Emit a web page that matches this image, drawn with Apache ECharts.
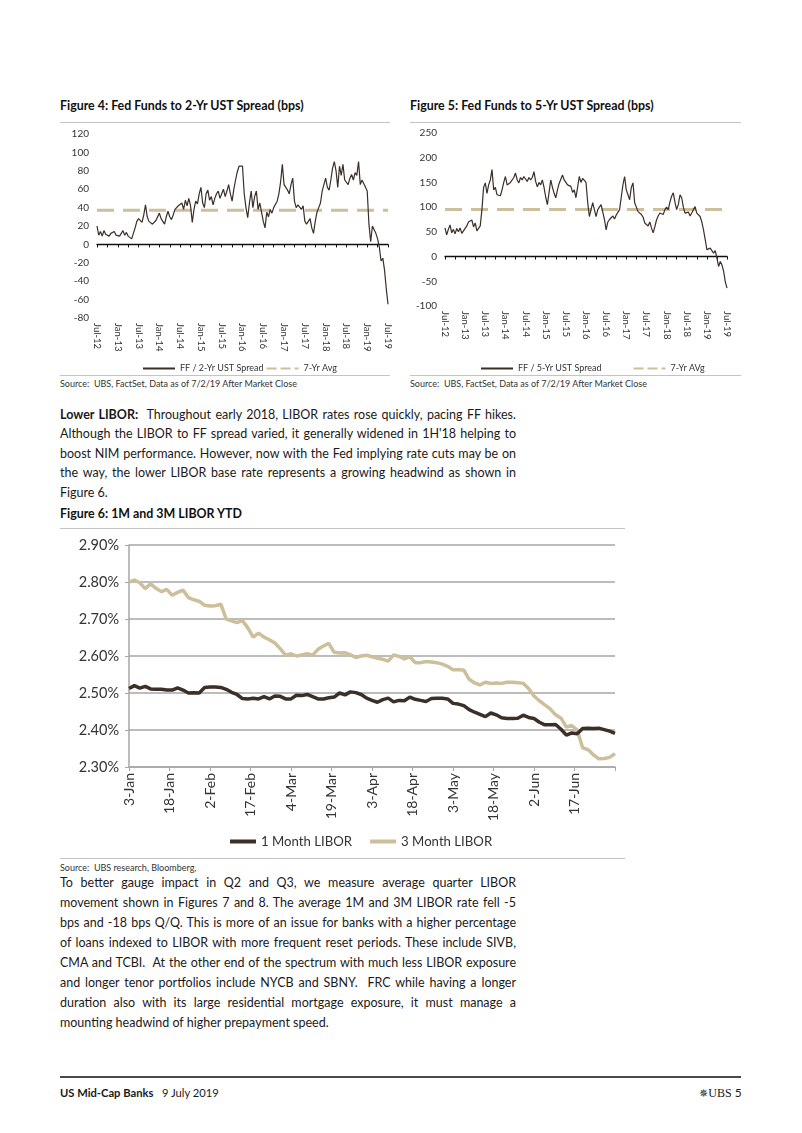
<!DOCTYPE html>
<html><head><meta charset="utf-8">
<script src="https://cdn.jsdelivr.net/npm/echarts@6/dist/echarts.min.js"></script>
<style>
body{margin:0;background:#fff;}
#page{position:relative;width:802px;height:1133px;font-family:Lato,'Open Sans',sans-serif;color:#1a1a1a;overflow:hidden;background:#fff}
.abs{position:absolute;white-space:pre}
.title{font-weight:bold;font-size:12.4px;line-height:14px;color:#111}
.rule{position:absolute;height:1px;background:#c4c4c4}
.src{font-size:9px;line-height:12px;color:#333}
.para{position:absolute;left:60px;width:456px;font-size:12.5px;color:#1a1a1a}
.para span{display:block;white-space:pre;height:19.4px;line-height:19.4px}
.para2 span{height:20px;line-height:20px}
.chart{position:absolute}
</style></head>
<body><div id="page">

<div class="abs title" style="left:60px;top:99px">Figure 4: Fed Funds to 2-Yr UST Spread (bps)</div>
<div class="abs title" style="left:410px;top:99px">Figure 5: Fed Funds to 5-Yr UST Spread (bps)</div>
<div class="rule" style="left:60px;top:122px;width:330px"></div>
<div class="rule" style="left:410px;top:122px;width:331px"></div>

<div class="chart" id="fig4" style="left:55px;top:125px;width:345px;height:250px"></div>
<div class="chart" id="fig5" style="left:405px;top:125px;width:345px;height:250px"></div>

<div class="rule" style="left:60px;top:375px;width:330px"></div>
<div class="rule" style="left:410px;top:375px;width:331px"></div>
<div class="abs src" style="left:60px;top:378px">Source:  UBS, FactSet, Data as of 7/2/19 After Market Close</div>
<div class="abs src" style="left:410px;top:378px">Source:  UBS, FactSet, Data as of 7/2/19 After Market Close</div>

<div class="para" style="top:405px">
<span class="just"><b>Lower LIBOR:</b>  Throughout early 2018, LIBOR rates rose quickly, pacing FF hikes.</span>
<span class="just">Although the LIBOR to FF spread varied, it generally widened in 1H'18 helping to</span>
<span class="just">boost NIM performance. However, now with the Fed implying rate cuts may be on</span>
<span class="just">the way, the lower LIBOR base rate represents a growing headwind as shown in</span>
<span>Figure 6.</span>
</div>

<div class="abs title" style="left:60px;top:507px">Figure 6: 1M and 3M LIBOR YTD</div>
<div class="rule" style="left:60px;top:528px;width:565px"></div>
<div class="chart" id="fig6" style="left:55px;top:530px;width:580px;height:325px"></div>
<div class="rule" style="left:60px;top:858px;width:565px"></div>
<div class="abs src" style="left:60px;top:862px">Source:  UBS research, Bloomberg,</div>

<div class="para para2" style="top:873px">
<span class="just">To better gauge impact in Q2 and Q3, we measure average quarter LIBOR</span>
<span class="just">movement shown in Figures 7 and 8. The average 1M and 3M LIBOR rate fell -5</span>
<span class="just">bps and -18 bps Q/Q. This is more of an issue for banks with a higher percentage</span>
<span class="just">of loans indexed to LIBOR with more frequent reset periods. These include SIVB,</span>
<span class="just">CMA and TCBI.  At the other end of the spectrum with much less LIBOR exposure</span>
<span class="just">and longer tenor portfolios include NYCB and SBNY.  FRC while having a longer</span>
<span class="just">duration also with its large residential mortgage exposure, it must manage a</span>
<span>mounting headwind of higher prepayment speed.</span>
</div>

<div style="position:absolute;left:60px;top:1076px;width:681px;height:1.5px;background:#4a4a4a"></div>
<div class="abs" style="left:60px;top:1085px;font-size:11.2px;line-height:16px"><b>US Mid-Cap Banks</b>   9 July 2019</div>
<div class="abs" style="left:699px;top:1085px;font-size:12px;line-height:16px"><span style="font-family:'DejaVu Sans';font-size:11px">✵</span><span style="font-family:'Liberation Serif'">UBS</span> 5</div>

</div>
<script>
// ---------- Figures 4 & 5: half-monthly readings, Jul-12 .. Jul-19 ----------
const monthNames = ['Jan','Feb','Mar','Apr','May','Jun','Jul','Aug','Sep','Oct','Nov','Dec'];
const spreadDates = [];
for (let m = 0; m <= 84; m++) {
  const mo = (6 + m) % 12, yr = 12 + Math.floor((6 + m) / 12);
  spreadDates.push(monthNames[mo] + '-' + yr + '|01');
  if (m < 84) spreadDates.push(monthNames[mo] + '-' + yr + '|16');
}
const ff2Spread = [
  20,10,14,9,15,11,13,9,12,10,14,10,
  12,9,11,15,10,13,9,11,6,12,18,25,
  28,30,24,32,43,30,25,27,22,21,26,24,
  34,28,25,22,30,36,30,27,32,38,36,42,
  40,45,38,48,42,50,42,24,38,47,44,55,
  62,45,40,55,59,48,52,43,50,55,58,50,
  55,60,52,58,65,55,47,60,70,79,85,84,
  85,55,40,29,45,58,40,52,58,38,45,35,
  25,18,35,30,38,34,40,38,47,55,68,87,
  65,62,59,55,65,72,47,40,43,45,38,42,
  25,22,20,28,18,12,25,35,40,45,58,60,
  72,62,59,70,83,90,80,62,85,75,87,70,
  68,65,72,76,70,78,75,90,65,70,68,62,
  58,22,3,20,16,12,6,-3,-18,-15,-28,-48,
  -65
];
const ff5Spread = [
  58,44,55,64,48,55,46,57,50,58,47,52,
  48,62,70,66,74,60,68,52,48,62,95,140,
  149,128,145,155,176,135,140,125,127,123,135,150,
  162,145,141,150,152,160,169,155,149,160,155,162,
  157,152,160,155,160,172,152,141,150,145,155,140,
  120,105,130,155,140,128,119,135,148,150,165,155,
  152,145,148,142,130,135,119,140,162,150,158,155,
  150,110,81,95,109,95,81,95,100,105,90,75,
  54,70,75,71,82,76,84,80,95,120,145,162,
  135,125,115,140,149,109,100,91,95,85,80,68,
  72,62,70,58,48,60,74,82,88,91,85,95,
  100,95,110,122,129,110,95,105,125,119,100,88,
  85,90,82,88,95,101,88,92,81,70,54,35,
  14,10,17,12,7,12,-3,-20,-10,-17,-30,-51,
  -64
];
const avg2 = 37;
const avg5 = 95;

// ---------- Figure 6: LIBOR YTD 2019, every 2 days from 3-Jan ----------
const liborDays = [];
for (let d = 0; d <= 180; d += 2) liborDays.push(d);
const libor3M = [
  2.800,2.805,2.798,2.782,2.795,2.783,2.774,2.780,2.764,2.772,2.778,
  2.758,2.752,2.748,2.737,2.735,2.736,2.740,2.700,2.695,2.690,
  2.696,2.676,2.651,2.662,2.651,2.644,2.635,2.620,2.602,2.606,
  2.600,2.603,2.606,2.602,2.618,2.627,2.634,2.610,2.608,2.609,
  2.603,2.596,2.600,2.602,2.598,2.594,2.591,2.586,2.603,2.599,
  2.592,2.598,2.582,2.582,2.585,2.584,2.582,2.578,2.572,2.563,
  2.563,2.562,2.537,2.527,2.522,2.529,2.526,2.527,2.526,2.529,
  2.529,2.528,2.526,2.512,2.492,2.479,2.468,2.457,2.441,2.432,
  2.408,2.412,2.400,2.352,2.347,2.333,2.322,2.323,2.326,2.336
];
const libor1M = [
  2.512,2.520,2.513,2.518,2.511,2.510,2.510,2.508,2.508,2.514,2.508,
  2.500,2.501,2.500,2.515,2.516,2.516,2.515,2.510,2.502,2.496,
  2.485,2.484,2.486,2.484,2.490,2.484,2.492,2.491,2.484,2.484,
  2.494,2.493,2.496,2.490,2.484,2.484,2.487,2.489,2.500,2.495,
  2.503,2.501,2.496,2.486,2.480,2.475,2.482,2.486,2.476,2.480,
  2.479,2.489,2.483,2.480,2.477,2.485,2.486,2.486,2.484,2.472,
  2.470,2.466,2.455,2.448,2.442,2.436,2.446,2.441,2.433,2.431,
  2.431,2.432,2.440,2.434,2.431,2.421,2.414,2.414,2.415,2.402,
  2.386,2.392,2.390,2.404,2.405,2.404,2.405,2.401,2.397,2.391
];
const startDate = Date.UTC(2019, 0, 3);

// ---------- justify paragraph lines ----------
document.querySelectorAll('.just').forEach(el => {
  el.style.display = 'inline-block';
  const w = el.getBoundingClientRect().width;
  const target = 456;
  const n = (el.textContent.match(/ /g) || []).length;
  if (w > target) {
    el.style.letterSpacing = ((target - w) / el.textContent.length) + 'px';
  } else if (n > 0) {
    el.style.wordSpacing = ((target - w) / n) + 'px';
  }
  el.style.display = 'block';
});

const FONT = 'Lato';
const DARK = '#3b2f28';
const TAN = '#cdbe9c';
const HIDE_SYMBOL = { color: 'rgba(0,0,0,0)', borderColor: 'rgba(0,0,0,0)', borderWidth: 0 };

function spreadOption(data, avg, name, avgName, yMin, yMax, yInt, grid, legendLeft, legendGap) {
  const last = spreadDates.length - 1;
  return {
    animation: false,
    textStyle: { fontFamily: FONT },
    grid: grid,
    legend: {
      left: legendLeft, top: 234, itemGap: legendGap, itemWidth: 32, itemHeight: 8,
      itemStyle: HIDE_SYMBOL,
      textStyle: { fontSize: 9, color: '#333', fontFamily: FONT },
      data: [
        { name: name },
        { name: avgName, lineStyle: { type: [10, 4] } }
      ]
    },
    xAxis: [
      { type: 'category', data: spreadDates, boundaryGap: false, position: 'bottom',
        axisLine: { onZero: true, lineStyle: { color: '#111', width: 1.4 } },
        axisTick: { show: true, interval: 5, length: 3, lineStyle: { color: '#111' } },
        axisLabel: { show: false } },
      { type: 'category', data: spreadDates, boundaryGap: false, position: 'bottom',
        axisLine: { show: false, onZero: false }, axisTick: { show: false },
        axisLabel: { interval: 11, rotate: -90, fontSize: 9.5, color: '#333', margin: 5,
          formatter: v => v.split('|')[0] } }
    ],
    yAxis: { type: 'value', min: yMin, max: yMax, interval: yInt,
      axisLine: { show: false }, axisTick: { show: false }, splitLine: { show: false },
      axisLabel: { fontSize: 10, color: '#333', margin: 8 } },
    series: [
      { name: name, type: 'line', data: data, symbol: 'none', z: 3,
        lineStyle: { color: DARK, width: 1.2 }, itemStyle: { color: DARK } },
      { name: avgName, type: 'line', symbol: 'none', z: 2,
        data: [[spreadDates[0], avg], [spreadDates[last], avg]],
        lineStyle: { color: TAN, width: 3, type: [17, 9] }, itemStyle: { color: TAN } }
    ]
  };
}

echarts.init(document.getElementById('fig4')).setOption(
  spreadOption(ff2Spread, avg2, 'FF / 2-Yr UST Spread', '7-Yr Avg', -80, 120, 20,
    { left: 42, right: 12, top: 9, bottom: 57 }, 82, 2));
echarts.init(document.getElementById('fig5')).setOption(
  spreadOption(ff5Spread, avg5, 'FF / 5-Yr UST Spread', '7-Yr AVg', -100, 250, 50,
    { left: 40, right: 23, top: 8, bottom: 69 }, 70, 31));

const c6 = echarts.init(document.getElementById('fig6'));
c6.setOption({
  animation: false,
  textStyle: { fontFamily: FONT },
  grid: { left: 74, right: 20, top: 15, bottom: 88 },
  legend: {
    left: 168, top: 300, itemGap: 16, itemWidth: 26, itemHeight: 8,
    itemStyle: HIDE_SYMBOL,
    lineStyle: { width: 4 },
    textStyle: { fontSize: 13.2, color: '#333', fontFamily: FONT },
    data: ['1 Month LIBOR', '3 Month LIBOR']
  },
  xAxis: {
    type: 'value', min: 0, max: 180, interval: 15,
    axisLine: { lineStyle: { color: '#a6a6a6', width: 1.5 } },
    axisTick: { show: true, length: 4, lineStyle: { color: '#a6a6a6' } },
    splitLine: { show: false },
    axisLabel: { rotate: 90, fontSize: 14, color: '#333', margin: 6, showMaxLabel: true,
      formatter: v => {
        if (v >= 180) return '';
        const dt = new Date(startDate + v * 86400000);
        return dt.getUTCDate() + '-' + monthNames[dt.getUTCMonth()];
      } }
  },
  yAxis: {
    type: 'value', min: 2.3, max: 2.9, interval: 0.1,
    axisLine: { show: true, lineStyle: { color: '#a6a6a6', width: 1.5 } },
    axisTick: { show: true, length: 4, lineStyle: { color: '#a6a6a6' } },
    splitLine: { lineStyle: { color: '#a6a6a6', width: 1.5 } },
    axisLabel: { fontSize: 14.5, color: '#333', margin: 10, formatter: v => v.toFixed(2) + '%' }
  },
  series: [
    { name: '1 Month LIBOR', type: 'line', symbol: 'none', z: 3,
      data: liborDays.map((d, i) => [d, libor1M[i]]),
      lineStyle: { color: DARK, width: 3.5 }, itemStyle: { color: DARK } },
    { name: '3 Month LIBOR', type: 'line', symbol: 'none', z: 2,
      data: liborDays.map((d, i) => [d, libor3M[i]]),
      lineStyle: { color: TAN, width: 3.5 }, itemStyle: { color: TAN } }
  ]
});
</script>
</body></html>
